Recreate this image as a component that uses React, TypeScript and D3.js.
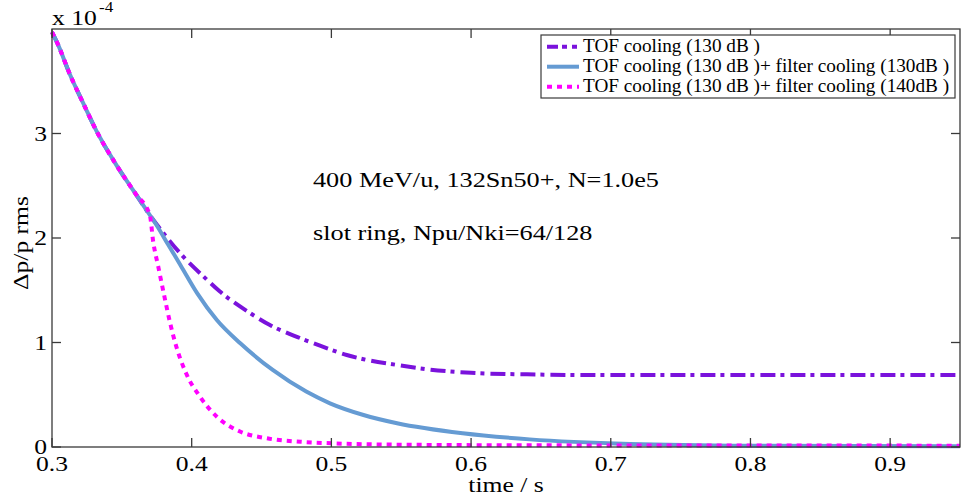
import React from "react";
import * as d3 from "d3";

// Common cooling phase before the filter cooling is switched on (time in s, Δp/p in 1e-4)
const sharedTime = [0.3, 0.304, 0.313, 0.322, 0.332, 0.346, 0.36, 0.37];
const sharedDp = [3.97, 3.86, 3.56, 3.3, 3.02, 2.7, 2.42, 2.22];

// TOF cooling (130 dB) only
const tofTime = [0.375, 0.392, 0.411, 0.42, 0.442, 0.456, 0.478, 0.497, 0.511, 0.523, 0.547, 0.571, 0.6, 0.64, 0.7, 0.8, 0.95];
const tofDp = [2.13, 1.85, 1.6, 1.49, 1.28, 1.167, 1.04, 0.944, 0.88, 0.84, 0.785, 0.74, 0.71, 0.695, 0.688, 0.688, 0.688];

// TOF cooling + filter cooling (130 dB)
const filter130Time = [0.375, 0.383, 0.392, 0.404, 0.418, 0.435, 0.458, 0.482, 0.499, 0.523, 0.547, 0.594, 0.642, 0.714, 0.8, 0.95];
const filter130Dp = [2.12, 1.94, 1.74, 1.47, 1.215, 0.99, 0.737, 0.53, 0.418, 0.306, 0.227, 0.131, 0.073, 0.029, 0.012, 0.006];

// TOF cooling + filter cooling (140 dB)
const filter140Time = [0.3725, 0.376, 0.38, 0.3845, 0.389, 0.396, 0.406, 0.418, 0.435, 0.454, 0.478, 0.501, 0.55, 0.65, 0.8, 0.95];
const filter140Dp = [1.96, 1.73, 1.47, 1.19, 0.96, 0.705, 0.48, 0.29, 0.146, 0.083, 0.05, 0.035, 0.022, 0.016, 0.014, 0.013];

const xTicks = [0.3, 0.4, 0.5, 0.6, 0.7, 0.8, 0.9];
const yTicks = [0, 1, 2, 3];
const seriesLabels = [
  "TOF cooling (130 dB )",
  "TOF cooling (130 dB )+ filter cooling (130dB )",
  "TOF cooling (130 dB )+ filter cooling (140dB )",
];
const infoLines = ["400 MeV/u, 132Sn50+, N=1.0e5", "slot ring, Npu/Nki=64/128"];

const W = 961;
const H = 498;
const FONT = "'Liberation Serif', 'Times New Roman', serif";
const AXIS = "#3a3a3a";

const COLORS = ["#7A12DC", "#659BD3", "#FF00FF"];
const DASH = ["15 5 4 6", undefined, "5 5"];
const LEGEND_DASH = ["11 4 5 5 5 60", undefined, "5 5"];

function StretchText({ x, y, sx = 1, rotate = 0, size, anchor = "start", children }: any) {
  return (
    <text
      transform={`translate(${x},${y}) rotate(${rotate}) scale(${sx},1)`}
      fontFamily={FONT}
      fontSize={size}
      textAnchor={anchor}
      fill="#000"
    >
      {children}
    </text>
  );
}

export default function App() {
  const x = d3.scaleLinear().domain([0.3, 0.95]).range([52, 960]);
  const y = d3.scaleLinear().domain([0, 4]).range([447, 29]);

  const join = (t: number[], v: number[]) => t.map((ti, i) => [ti, v[i]] as [number, number]);
  const shared = join(sharedTime, sharedDp);
  const series = [
    shared.concat(join(tofTime, tofDp)),
    shared.concat(join(filter130Time, filter130Dp)),
    shared.concat(join(filter140Time, filter140Dp)),
  ];

  const line = d3
    .line<[number, number]>()
    .x((d) => x(d[0]))
    .y((d) => y(d[1]))
    .curve(d3.curveMonotoneX);

  const [x0, x1] = x.range();
  const [yb, yt] = y.range();
  const TICK = 9;

  const legendX = 541;
  const legendY = 35;

  return (
    <svg
      width={W}
      height={H}
      viewBox={`0 0 ${W} ${H}`}
      style={{ position: "absolute", left: 0, top: 0, background: "#fff" }}
    >
      <rect x={0} y={0} width={W} height={H} fill="#fff" />

      {/* curves */}
      <g fill="none">
        {series.map((pts, i) => (
          <path
            key={i}
            d={line(pts) || ""}
            stroke={COLORS[i]}
            strokeWidth={4}
            strokeDasharray={DASH[i]}
            strokeLinejoin="round"
          />
        ))}
      </g>

      {/* axes box and inward ticks */}
      <g stroke={AXIS} strokeWidth={1.3} fill="none">
        <rect x={x0} y={yt} width={x1 - x0} height={yb - yt} />
        {xTicks.map((t) => (
          <g key={t}>
            <line x1={x(t)} x2={x(t)} y1={yb} y2={yb - TICK} />
            <line x1={x(t)} x2={x(t)} y1={yt} y2={yt + TICK} />
          </g>
        ))}
        {yTicks.map((t) => (
          <g key={t}>
            <line x1={x0} x2={x0 + TICK} y1={y(t)} y2={y(t)} />
            <line x1={x1} x2={x1 - TICK} y1={y(t)} y2={y(t)} />
          </g>
        ))}
      </g>

      {/* tick labels */}
      {xTicks.map((t) => (
        <StretchText key={t} x={x(t)} y={470.5} sx={1.22} size={21} anchor="middle">
          {String(t)}
        </StretchText>
      ))}
      {yTicks.map((t) => (
        <StretchText key={t} x={47} y={y(t) + 7} sx={1.22} size={21} anchor="end">
          {String(t)}
        </StretchText>
      ))}

      {/* exponent */}
      <StretchText x={52} y={25} sx={1.22} size={21}>
        x 10
      </StretchText>
      <StretchText x={99} y={12} sx={1.22} size={14}>
        -4
      </StretchText>

      {/* axis titles */}
      <StretchText x={506} y={492} sx={1.22} size={21} anchor="middle">
        time / s
      </StretchText>
      <StretchText x={27.5} y={243} rotate={-90} sx={1.22} size={21} anchor="middle">
        Δp/p rms
      </StretchText>

      {/* beam parameters */}
      {infoLines.map((s, i) => (
        <StretchText key={s} x={313} y={187 + i * 53} sx={1.25} size={21}>
          {s}
        </StretchText>
      ))}

      {/* legend */}
      <g>
        <rect
          x={legendX}
          y={legendY}
          width={414}
          height={63}
          fill="#fff"
          stroke={AXIS}
          strokeWidth={1.2}
        />
        {seriesLabels.map((lab, i) => {
          const ly = 46.7 + i * 20;
          return (
            <g key={lab}>
              <line
                x1={547}
                x2={579}
                y1={ly}
                y2={ly}
                stroke={COLORS[i]}
                strokeWidth={4}
                strokeDasharray={LEGEND_DASH[i]}
              />
              <StretchText x={583} y={ly + 5.6} sx={1.04} size={18.5}>
                {lab}
              </StretchText>
            </g>
          );
        })}
      </g>
    </svg>
  );
}
